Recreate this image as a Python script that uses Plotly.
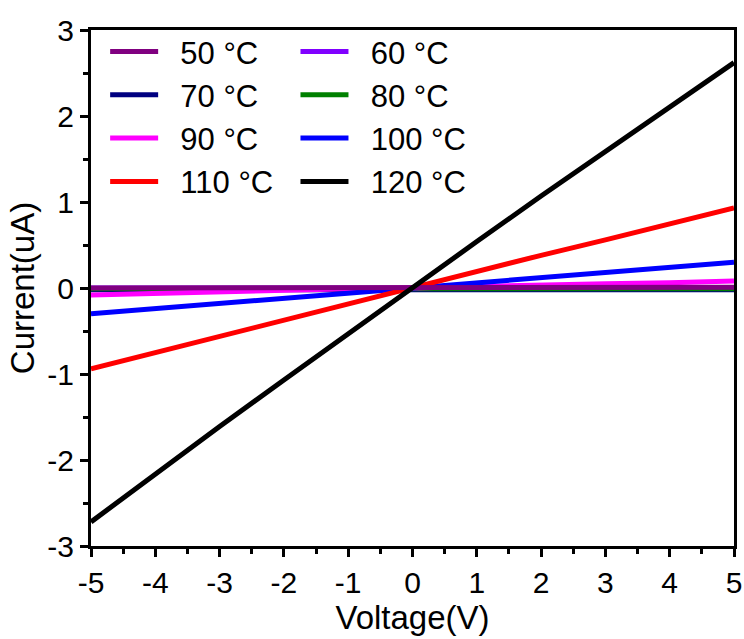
import plotly.graph_objects as go

# Bias sweep (V)
voltage = [-5, -4, -3, -2, -1, 0, 1, 2, 3, 4, 5]

# Measured current (uA) at each temperature
current_50 = [0.00, 0.00, 0.00, 0.00, 0.00, 0.00, 0.00, 0.00, 0.00, 0.01, 0.01]
current_60 = [0.00, 0.00, 0.00, 0.00, 0.00, 0.00, 0.00, 0.00, 0.00, 0.00, 0.00]
current_70 = [-0.02, -0.02, -0.02, -0.02, -0.02, -0.02, -0.02, -0.02, -0.02, -0.02, -0.02]
current_80 = [-0.01, -0.01, -0.01, -0.01, -0.01, -0.01, -0.01, -0.01, -0.01, -0.01, -0.01]
current_90 = [-0.08, -0.06, -0.05, -0.03, -0.01, 0.00, 0.02, 0.03, 0.05, 0.06, 0.08]
current_100 = [-0.30, -0.24, -0.18, -0.12, -0.06, 0.01, 0.07, 0.12, 0.18, 0.24, 0.30]
current_110 = [-0.94, -0.75, -0.56, -0.37, -0.18, 0.01, 0.20, 0.38, 0.56, 0.75, 0.93]
current_120 = [-2.72, -2.16, -1.61, -1.07, -0.53, 0.01, 0.54, 1.07, 1.59, 2.11, 2.62]

temperatures = ["50 °C", "60 °C", "70 °C", "80 °C", "90 °C", "100 °C", "110 °C", "120 °C"]
colors = ["#800080", "#8000FF", "#000080", "#008000", "#FF00FF", "#0000FF", "#FF0000", "#000000"]
series = [current_50, current_60, current_70, current_80,
          current_90, current_100, current_110, current_120]

x_tickvals = [-5, -4, -3, -2, -1, 0, 1, 2, 3, 4, 5]
x_ticktext = ["-5", "-4", "-3", "-2", "-1", "0", "1", "2", "3", "4", "5"]
y_tickvals = [-3, -2, -1, 0, 1, 2, 3]
y_ticktext = ["-3", "-2", "-1", "0", "1", "2", "3"]

FONT = "Liberation Sans, Arial, sans-serif"
GAP = "\u00a0\u00a0"  # spacing between legend swatch and label

# stacking order of the curves (last drawn on top)
draw_order = [1, 2, 3, 4, 5, 6, 0, 7]

fig = go.Figure()
for i in draw_order:
    fig.add_trace(go.Scatter(
        x=voltage, y=series[i], mode="lines", name=GAP + temperatures[i],
        line=dict(color=colors[i], width=5),
        legend="legend" if i % 2 == 0 else "legend2",
        legendrank=i,
    ))

legend_common = dict(
    font=dict(family=FONT, size=31, color="black"),
    bgcolor="rgba(0,0,0,0)", borderwidth=0,
    tracegroupgap=0, itemwidth=48,
    xanchor="left", yanchor="top", yref="paper", xref="paper",
)

axis_common = dict(
    showline=True, linecolor="black", linewidth=3, mirror=True,
    ticks="outside", ticklen=8, tickwidth=3, tickcolor="black",
    showgrid=False, zeroline=False, automargin=False,
    tickfont=dict(family=FONT, size=30, color="black"),
    minor=dict(ticks="outside", ticklen=5, tickwidth=3, tickcolor="black", dtick=0.5),
)

fig.update_layout(
    width=744, height=639,
    margin=dict(l=91, r=10, t=30, b=93),
    plot_bgcolor="white", paper_bgcolor="white",
    xaxis=dict(range=[-5, 5], tickvals=x_tickvals, ticktext=x_ticktext,
               title=dict(text="Voltage(V)", font=dict(family=FONT, size=33, color="black"), standoff=6),
               **axis_common),
    yaxis=dict(range=[-3, 3], tickvals=y_tickvals, ticktext=y_ticktext,
               title=dict(text="Current(uA)", font=dict(family=FONT, size=33, color="black"), standoff=3),
               **axis_common),
    legend=dict(x=0.022, y=1.01, **legend_common),
    legend2=dict(x=0.318, y=1.01, **legend_common),
    showlegend=True,
)

fig.write_html("out.html")
